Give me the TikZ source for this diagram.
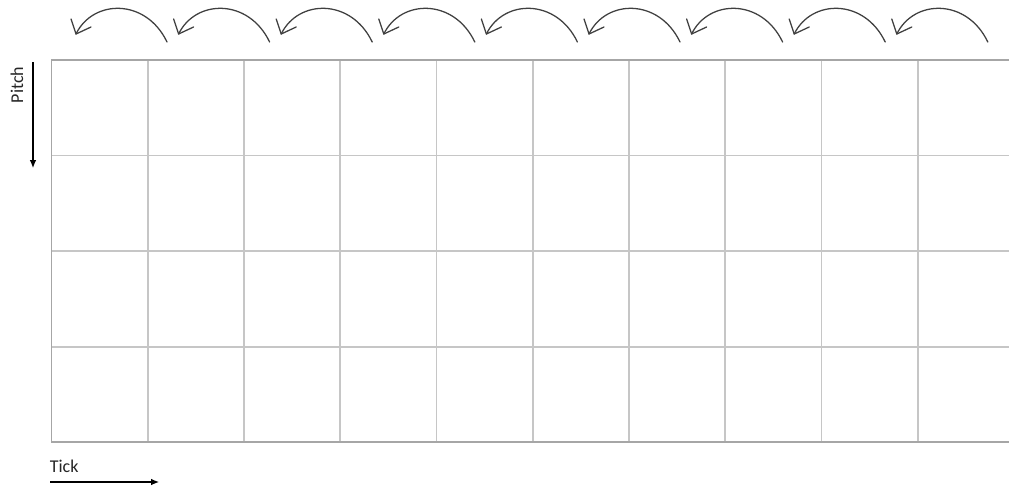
\documentclass[tikz,border=0pt]{standalone}
\usepackage{fontspec}
\setmainfont{Carlito}
\usetikzlibrary{arrows.meta}
\begin{document}
\begin{tikzpicture}[x=0.75pt,y=-0.75pt,
  gridinner/.style={draw=gray!45,line width=1.1pt},
  gridouter/.style={draw=gray!70,line width=1.1pt},
  hop/.style={draw=black!75,line width=0.95pt,line cap=round,line join=round},
  axis/.style={draw=black,line width=0.85pt,-{Latex[length=6pt,width=5pt]}},
  lbl/.style={font=\fontsize{13.5}{16}\selectfont,inner sep=0pt,text=black!85}]
\useasboundingbox[fill=white] (0,0) rectangle (1009,489);
% grid
\foreach \x in {148,244,340,436.5,533,629,725,821.5,918}{
  \draw[gridinner] (\x,60) -- (\x,442);
}
\foreach \y in {155.5,251,347}{
  \draw[gridinner] (51.5,\y) -- (1009,\y);
}
\draw[gridouter] (1009,60) -- (51.5,60) -- (51.5,442) -- (1009,442);
% hops
\foreach \k in {0,...,8}{
  \begin{scope}[shift={(102.6*\k,0)}]
    \draw[hop] (167,42) .. controls (146,-2) and (93,-1) .. (76,34);
    \draw[hop] (71,19) -- (76,34) -- (91,27);
  \end{scope}
}
% axes
\coordinate (ps) at (33,62);
\coordinate (pe) at (33,168);
\draw[axis] (ps) -- (pe);
\node[lbl,rotate=90] (pitch) at (17,85) {Pitch};
\coordinate (ts) at (50,482);
\coordinate (te) at (159,482);
\draw[axis] (ts) -- (te);
\node[lbl,anchor=base west] (tick) at (49.5,472) {Tick};
\end{tikzpicture}
\end{document}
